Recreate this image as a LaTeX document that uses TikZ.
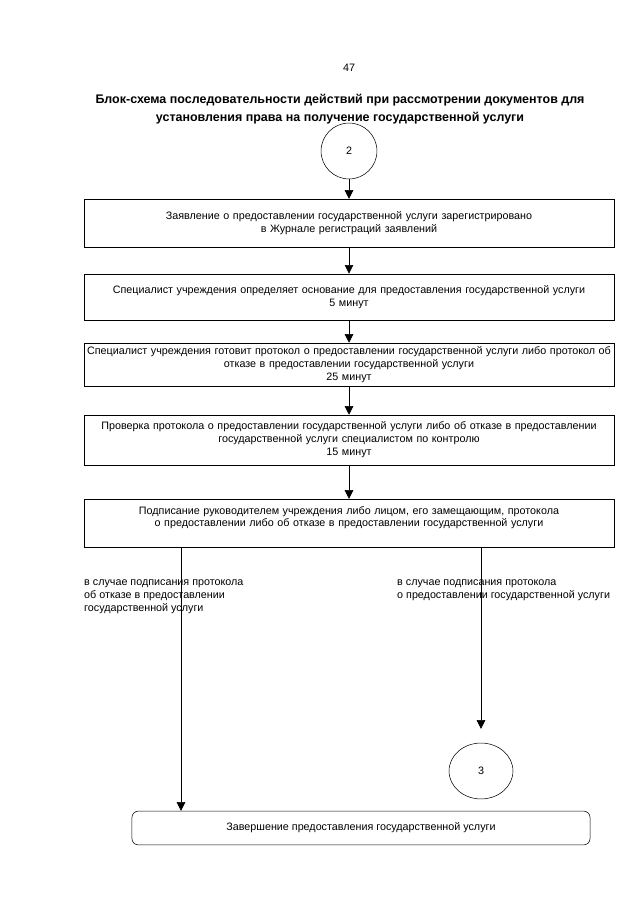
\documentclass[tikz,border=0pt]{standalone}
\usepackage{fontspec}
\setmainfont{Liberation Sans}
\usetikzlibrary{arrows.meta,shapes.geometric}

\begin{document}
\begin{tikzpicture}[x=0.93pt,y=-0.93pt,
  stepbox/.style={draw,rectangle,line width=0.5pt,minimum width=493pt,text width=489pt,
    align=center,inner sep=0pt,font=\fontsize{10}{12}\selectfont},
  endbox/.style={draw,rectangle,rounded corners=6pt,line width=0.5pt,minimum width=426pt,
    minimum height=31.5pt,align=center,font=\fontsize{10}{12}\selectfont},
  conn/.style={draw,circle,line width=0.5pt,minimum size=52pt,inner sep=0pt,font=\fontsize{10}{12}\selectfont},
  note/.style={align=left,inner sep=0pt,anchor=north west,font=\fontsize{10}{12.5}\selectfont},
  arr/.style={line width=0.5pt,-{Triangle[width=8pt,length=8pt]}}]
  \useasboundingbox (0,0) rectangle (640,905);

  \node[font=\fontsize{10}{12}\selectfont] (page) at (349,68) {47};
  \node[align=center,font=\fontsize{11.6}{16.5}\bfseries\selectfont] (title) at (340,109)
    {Блок-схема последовательности действий при рассмотрении документов для\\
     установления права на получение государственной услуги};

  \node[conn] (c2) at (349,151) {2};

  \node[stepbox,minimum height=44.5pt] (s1) at (349,223)
    {Заявление о предоставлении государственной услуги зарегистрировано\\
     в Журнале регистраций заявлений};
  \node[stepbox,minimum height=43pt] (s2) at (349,297)
    {Специалист учреждения определяет основание для предоставления государственной услуги\\
     5 минут};
  \node[stepbox,minimum height=40pt] (s3) at (349,364.5)
    {Специалист учреждения готовит протокол о предоставлении государственной услуги либо протокол об\\
     отказе в предоставлении государственной услуги\\
     25 минут};
  \node[stepbox,minimum height=46.5pt] (s4) at (349,440)
    {Проверка протокола о предоставлении государственной услуги либо об отказе в предоставлении\\
     государственной услуги специалистом по контролю\\
     15 минут};
  \node[stepbox,minimum height=44.5pt] (s5) at (349,523)
    {Подписание руководителем учреждения либо лицом, его замещающим, протокола\\
     о предоставлении либо об отказе в предоставлении государственной услуги\\ \mbox{}};

  \node[note] (n1) at (84,579)
    {в случае подписания протокола\\об отказе в предоставлении\\государственной услуги};
  \node[note] (n2) at (397,579)
    {в случае подписания протокола\\о предоставлении государственной услуги};

  \node[draw,ellipse,line width=0.5pt,minimum width=59.5pt,minimum height=52pt,
    font=\fontsize{10}{12}\selectfont] (c3) at (481,771) {3};

  \node[endbox] (fin) at (361,828) {Завершение предоставления государственной услуги};

  \coordinate (lft) at (181,523);
  \coordinate (rgt) at (481,523);

  % main chain
  \draw[arr] (c2) -- (s1);
  \draw[arr] (s1) -- (s2);
  \draw[arr] (s2) -- (s3);
  \draw[arr] (s3) -- (s4);
  \draw[arr] (s4) -- (s5);

  % two branches
  \draw[arr] (lft |- s5.south) -- (lft |- fin.north);
  \draw[arr,shorten >=13pt] (rgt |- s5.south) -- (c3);
\end{tikzpicture}
\end{document}
